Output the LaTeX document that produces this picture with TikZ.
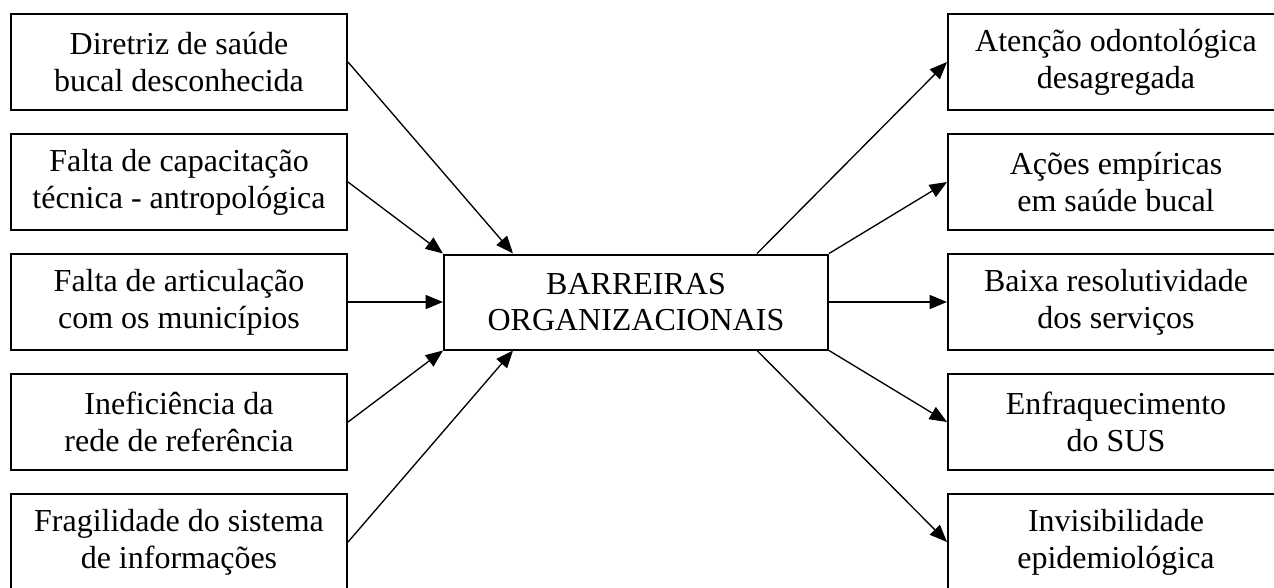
\documentclass[tikz,border=0pt]{standalone}
\usepackage{fontspec}
\setmainfont{Liberation Serif}
\usetikzlibrary{arrows.meta}
\begin{document}
\begin{tikzpicture}[x=0.75pt,y=-0.75pt,
  box/.style={draw, line width=1.5pt, minimum width=252pt, minimum height=72pt,
    align=center, inner sep=0pt, font=\fontsize{24}{27.6}\selectfont},
  cbox/.style={box, minimum width=288pt, minimum height=71.25pt},
  arr/.style={line width=1pt, -{Triangle[length=13pt,width=10.5pt]}}]
\useasboundingbox (0,0) rectangle (1274,587);
\clip (0,0) rectangle (1274,587);
% left boxes
\node[box] (l1) at (179,62) {Diretriz de saúde\\bucal desconhecida};
\node[box] (l2) at (179,182) {Falta de capacitação\\técnica - antropológica};
\node[box] (l3) at (179,302) {Falta de articulação\\com os municípios};
\node[box] (l4) at (179,422) {Ineficiência da\\rede de referência};
\node[box] (l5) at (179,542) {Fragilidade do sistema\\de informações};
% centre
\node[cbox] (c) at (636,302) {BARREIRAS\\ORGANIZACIONAIS};
% right boxes
\node[box] (r1) at (1116,62) {Atenção odontológica\\desagregada};
\node[box] (r2) at (1116,182) {Ações empíricas\\em saúde bucal};
\node[box] (r3) at (1116,302) {Baixa resolutividade\\dos serviços};
\node[box] (r4) at (1116,422) {Enfraquecimento\\do SUS};
\node[box] (r5) at (1116,542) {Invisibilidade\\epidemiológica};
% arrows in
\draw[arr] (l1.east) -- ([xshift=52.5pt]c.north west);
\draw[arr] (l2.east) -- (c.north west);
\draw[arr] (l3.east) -- (c.west);
\draw[arr] (l4.east) -- (c.south west);
\draw[arr] (l5.east) -- ([xshift=52.5pt]c.south west);
% arrows out
\draw[arr] ([xshift=-54pt]c.north east) -- (r1.west);
\draw[arr] (c.north east) -- (r2.west);
\draw[arr] (c.east) -- (r3.west);
\draw[arr] (c.south east) -- (r4.west);
\draw[arr] ([xshift=-54pt]c.south east) -- (r5.west);
\end{tikzpicture}
\end{document}
